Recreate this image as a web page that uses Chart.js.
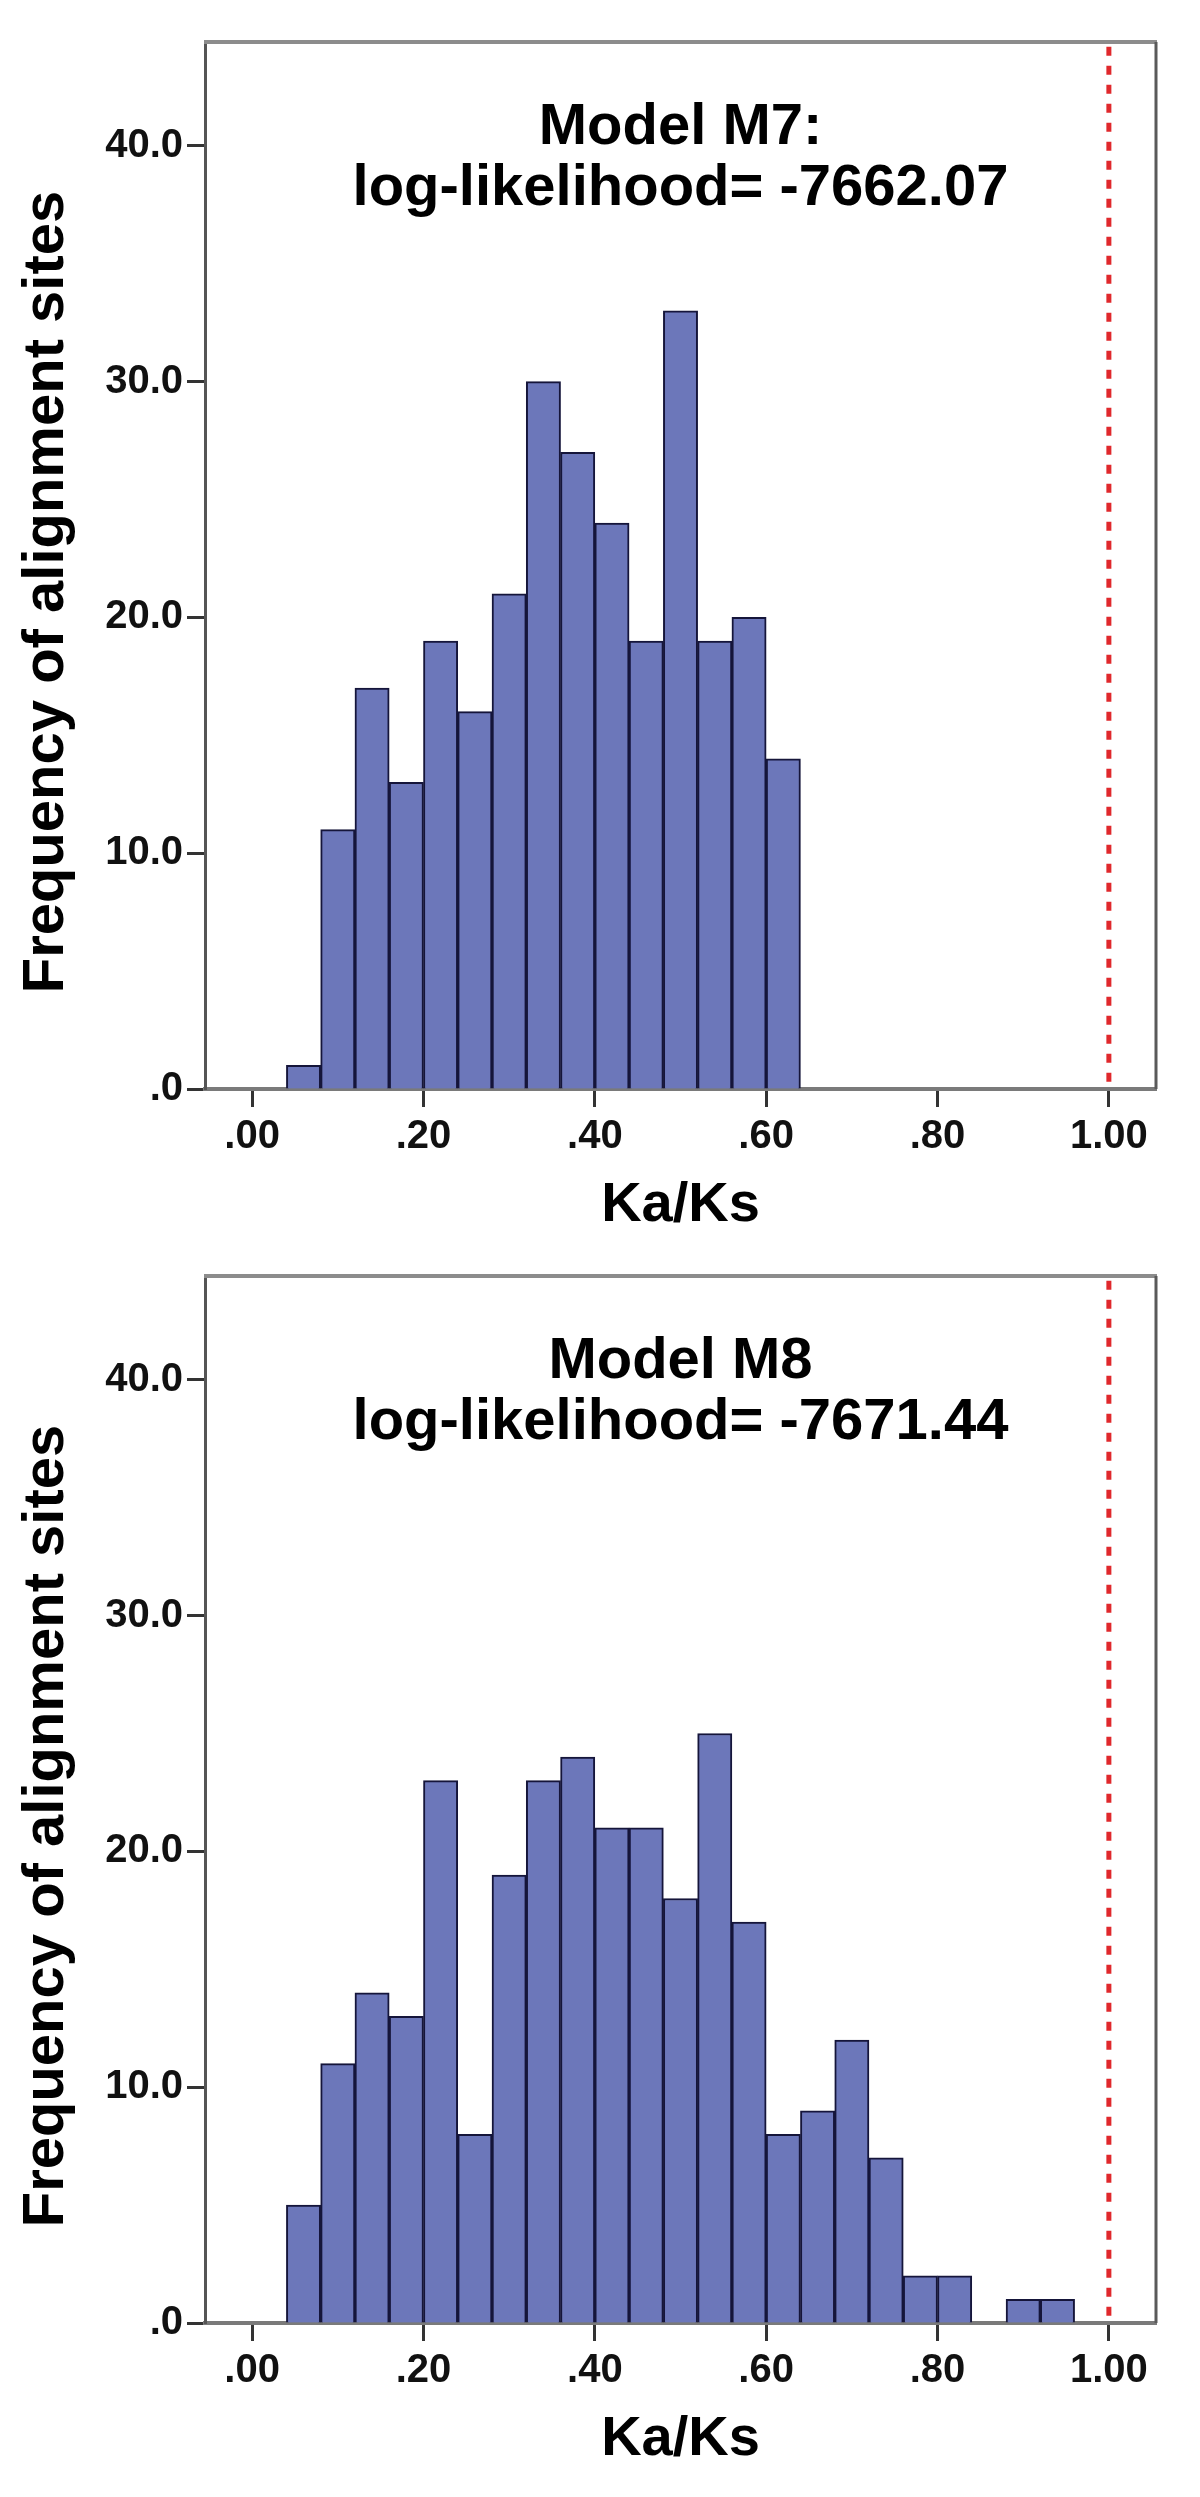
<!DOCTYPE html>
<html><head><meta charset="utf-8">
<script src="https://cdn.jsdelivr.net/npm/chart.js@4/dist/chart.umd.min.js"></script>
<style>
html,body{margin:0;padding:0;background:#fff;}
canvas{display:block;}
</style></head><body>
<canvas id="c1" width="1200" height="1234"></canvas>
<canvas id="c2" width="1200" height="1234"></canvas>
<script>
// ---- data ----
const binCentersM7 = [0.06,0.10,0.14,0.18,0.22,0.26,0.30,0.34,0.38,0.42,0.46,0.50,0.54,0.58,0.62];
const countsM7     = [1,11,17,13,19,16,21,30,27,24,19,33,19,20,14];
const binCentersM8 = [0.06,0.10,0.14,0.18,0.22,0.26,0.30,0.34,0.38,0.42,0.46,0.50,0.54,0.58,0.62,0.66,0.70,0.74,0.78,0.82,0.86,0.90,0.94];
const countsM8     = [5,11,14,13,23,8,19,23,24,21,21,18,25,17,8,9,12,7,2,2,0,1,1];
const xTickValues = [0,0.2,0.4,0.6,0.8,1.0];
const xTickLabels = ['.00','.20','.40','.60','.80','1.00'];
const yTickValues = [0,10,20,30,40];
const yTickLabels = ['.0','10.0','20.0','30.0','40.0'];
const titleM7 = ['Model M7:','log-likelihood= -7662.07'];
const titleM8 = ['Model M8','log-likelihood= -7671.44'];
const refLineX = 1.0;
const xAxisTitle = 'Ka/Ks';
const yAxisTitle = 'Frequency of alignment sites';

const FONT = '"Liberation Sans", Arial, Helvetica, sans-serif';

const framePlugin = {
  id: 'frame',
  afterDraw(chart) {
    const {ctx, chartArea: a} = chart;
    ctx.save();
    ctx.strokeStyle = '#8c8c8c';
    ctx.lineWidth = 4;
    ctx.beginPath(); ctx.moveTo(a.left - 1, a.top); ctx.lineTo(a.right + 1, a.top); ctx.stroke();
    ctx.strokeStyle = '#5a5a5a';
    ctx.lineWidth = 3;
    ctx.beginPath(); ctx.moveTo(a.right, a.top); ctx.lineTo(a.right, a.bottom); ctx.stroke();
    ctx.restore();
  }
};

const textPlugin = {
  id: 'texts',
  afterDatasetsDraw(chart, args, opts) {
    const {ctx, chartArea: a} = chart;
    const cx = (a.left + a.right) / 2;
    ctx.save();
    ctx.fillStyle = '#000';
    ctx.font = 'bold 58px ' + FONT;
    ctx.textAlign = 'center';
    ctx.textBaseline = 'alphabetic';
    opts.lines.forEach((t, i) => ctx.fillText(t, cx, a.top + 102 + i * 61));
    // y-axis title
    ctx.translate(47, 592);
    ctx.rotate(-Math.PI / 2);
    ctx.textBaseline = 'middle';
    ctx.fillText(opts.yTitle, 0, 0);
    ctx.restore();
  }
};

function makeChart(id, centers, counts, titleLines) {
  new Chart(document.getElementById(id), {
    type: 'bar',
    data: {
      datasets: [
        {
          type: 'bar',
          data: centers.map((c, i) => ({x: c, y: counts[i]})),
          backgroundColor: 'rgb(108,119,186)',
          borderColor: '#15153a',
          borderWidth: 2,
          barPercentage: 1,
          categoryPercentage: 1,
          order: 2
        },
        {
          type: 'line',
          data: [{x: refLineX, y: 44.2}, {x: refLineX, y: 0}],
          borderColor: '#e0282c',
          borderWidth: 5,
          borderDash: [9, 10],
          pointRadius: 0,
          fill: false,
          order: 1
        }
      ]
    },
    options: {
      responsive: false,
      animation: false,
      devicePixelRatio: 1,
      layout: {padding: {top: 42, right: 44, left: 0, bottom: 0}},
      plugins: {
        legend: {display: false},
        tooltip: {enabled: false},
        texts: {lines: titleLines, yTitle: yAxisTitle}
      },
      scales: {
        x: {
          type: 'linear',
          offset: false,
          min: -0.055,
          max: 1.055,
          afterBuildTicks: s => { s.ticks = xTickValues.map(v => ({value: v})); },
          afterFit: s => { s.height = 145; },
          ticks: {
            autoSkip: false, maxRotation: 0,
            callback: v => xTickLabels[xTickValues.indexOf(v)],
            font: {family: FONT, size: 40, weight: 'bold'},
            color: '#111',
            padding: 6
          },
          grid: {display: true, offset: false, drawOnChartArea: false, drawTicks: true, tickLength: 18, tickColor: '#333', tickWidth: 3},
          border: {display: true, color: '#7a7a7a', width: 4},
          title: {display: true, text: xAxisTitle, color: '#000',
                  font: {family: FONT, size: 56, weight: 'bold', lineHeight: 1.0}, padding: {top: 0, bottom: 0}}
        },
        y: {
          min: 0,
          max: 44.4,
          afterBuildTicks: s => { s.ticks = yTickValues.map(v => ({value: v})); },
          afterFit: s => { s.width = 205; },
          ticks: {
            autoSkip: false,
            callback: v => yTickLabels[yTickValues.indexOf(v)],
            font: {family: FONT, size: 40, weight: 'bold'},
            color: '#111',
            padding: 4
          },
          grid: {display: true, drawOnChartArea: false, drawTicks: true, tickLength: 18, tickColor: '#333', tickWidth: 3},
          border: {display: true, color: '#555', width: 3},
          title: {display: false}
        }
      }
    },
    plugins: [framePlugin, textPlugin]
  });
}

makeChart('c1', binCentersM7, countsM7, titleM7);
makeChart('c2', binCentersM8, countsM8, titleM8);
</script>
</body></html>
